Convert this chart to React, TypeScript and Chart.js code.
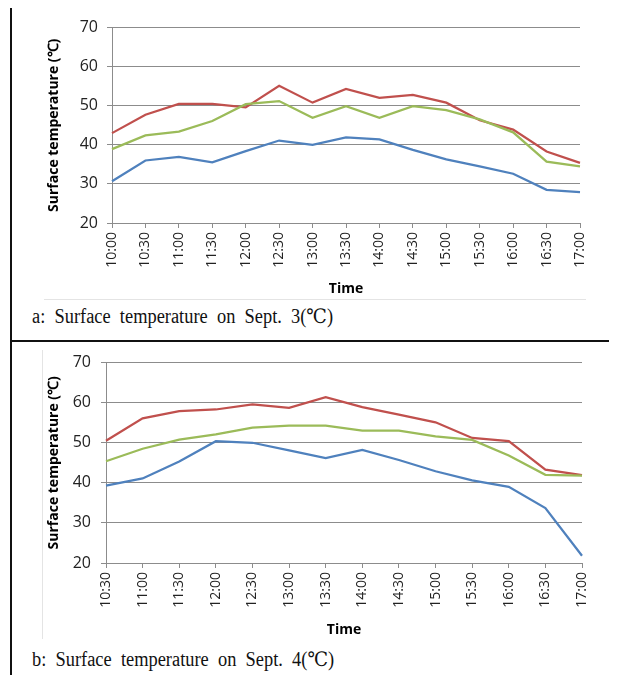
import React, { useEffect, useRef } from "react";
import { Chart, registerables } from "chart.js";

Chart.register(...registerables);

// ---- Data ----
const timesA = ["10:00","10:30","11:00","11:30","12:00","12:30","13:00","13:30","14:00","14:30","15:00","15:30","16:00","16:30","17:00"];
const redA = [43.0, 47.7, 50.5, 50.5, 49.6, 55.1, 50.8, 54.3, 52.0, 52.8, 50.8, 46.3, 43.9, 38.3, 35.4];
const greenA = [38.9, 42.4, 43.4, 46.1, 50.4, 51.2, 46.9, 49.9, 46.9, 49.9, 48.9, 46.5, 43.2, 35.7, 34.5];
const blueA = [30.7, 36.0, 36.9, 35.5, 38.4, 41.1, 40.0, 41.9, 41.4, 38.7, 36.3, 34.5, 32.6, 28.5, 27.9];

const timesB = ["10:30","11:00","11:30","12:00","12:30","13:00","13:30","14:00","14:30","15:00","15:30","16:00","16:30","17:00"];
const redB = [50.5, 56.1, 57.9, 58.3, 59.6, 58.7, 61.4, 58.9, 57.0, 55.1, 51.2, 50.4, 43.3, 41.9];
const greenB = [45.4, 48.5, 50.8, 52.1, 53.8, 54.3, 54.3, 53.0, 53.0, 51.6, 50.7, 46.8, 42.0, 41.8];
const blueB = [39.3, 41.1, 45.3, 50.4, 50.0, 48.1, 46.2, 48.2, 45.7, 42.9, 40.6, 39.0, 33.7, 21.8];

const yTicks = [20, 30, 40, 50, 60, 70];
const yTitle = "Surface temperature (℃)";
const xTitle = "Time";
const captionA = "a: Surface temperature on Sept. 3(℃)";
const captionB = "b: Surface temperature on Sept. 4(℃)";

const RED = "#C0504D";
const GREEN = "#9BBB59";
const BLUE = "#4F81BD";
const GRID = "#8c8c8c";

type Layout = {
  height: number;
  padTop: number;
  padRight: number;
  yWidth: number;
  xHeight: number;
  xTitlePad: number;
  yTickPad: number;
};

function TempChart(props: {
  labels: string[];
  red: number[];
  green: number[];
  blue: number[];
  layout: Layout;
  top: number;
}) {
  const ref = useRef<HTMLCanvasElement | null>(null);
  useEffect(() => {
    if (!ref.current) return;
    const L = props.layout;
    const mk = (label: string, data: number[], color: string) => ({
      label,
      data,
      borderColor: color,
      backgroundColor: color,
      borderWidth: 2.25,
      pointRadius: 0,
      tension: 0,
      fill: false,
    });
    const chart = new Chart(ref.current, {
      type: "line",
      data: {
        labels: props.labels,
        datasets: [
          mk("Blue", props.blue, BLUE),
          mk("Green", props.green, GREEN),
          mk("Red", props.red, RED),
        ],
      },
      options: {
        animation: false,
        responsive: false,
        layout: { padding: { top: L.padTop, right: L.padRight, left: 0, bottom: 0 } },
        plugins: { legend: { display: false }, tooltip: { enabled: false } },
        scales: {
          x: {
            type: "category",
            offset: false,
            afterFit: (s: any) => { s.height = L.xHeight; },
            grid: {
              display: true,
              drawOnChartArea: false,
              drawTicks: true,
              tickLength: 5,
              color: GRID,
            },
            border: { color: GRID, width: 1 },
            ticks: {
              minRotation: 90,
              maxRotation: 90,
              autoSkip: false,
              padding: 4,
              color: "#222",
              font: { family: "'Open Sans'", size: 14 },
            },
            title: {
              display: true,
              text: xTitle,
              color: "#000",
              font: { family: "'Open Sans'", size: 14, weight: "bold" },
              padding: { top: 0, bottom: L.xTitlePad },
            },
          },
          y: {
            min: 20,
            max: 70,
            afterFit: (s: any) => { s.width = L.yWidth; },
            afterBuildTicks: (s: any) => { s.ticks = yTicks.map((v) => ({ value: v })); },
            grid: {
              color: GRID,
              lineWidth: 1,
              drawTicks: true,
              tickLength: 5,
            },
            border: { color: GRID, width: 1 },
            ticks: {
              padding: L.yTickPad,
              color: "#222",
              font: { family: "'Open Sans'", size: 16 },
            },
            title: {
              display: true,
              text: yTitle,
              color: "#000",
              font: { family: "'Open Sans'", size: 14, weight: "bold" },
              padding: { top: 46, bottom: 0 },
            },
          },
        },
      },
    } as any);
    return () => chart.destroy();
  }, []);
  return (
    <canvas
      ref={ref}
      width={617}
      height={props.layout.height}
      style={{ position: "absolute", left: 0, top: props.top, width: 617, height: props.layout.height, display: "block" }}
    />
  );
}

const captionStyle: React.CSSProperties = {
  position: "absolute",
  left: 32,
  fontFamily: "'Liberation Serif', 'DejaVu Serif', serif",
  fontSize: 20,
  lineHeight: "22px",
  color: "#111",
  whiteSpace: "nowrap",
  wordSpacing: 5,
  transform: "scaleX(0.92)",
  transformOrigin: "left center",
};

export default function App() {
  return (
    <div style={{ position: "relative", margin: -8, width: 617, height: 683, overflow: "hidden", background: "#fff" }}>
      {/* faint chart-area borders */}
      <div style={{ position: "absolute", left: 44, top: 299, width: 542, height: 1, background: "#e4e4e4" }} />
      <div style={{ position: "absolute", left: 42, top: 350, width: 1, height: 289, background: "#e4e4e4" }} />
      <TempChart
        labels={timesA}
        red={redA}
        green={greenA}
        blue={blueA}
        top={9}
        layout={{ height: 296, padTop: 12, padRight: 37, yWidth: 112, xHeight: 82, xTitlePad: 8, yTickPad: 9 }}
      />
      <TempChart
        labels={timesB}
        red={redB}
        green={greenB}
        blue={blueB}
        top={343}
        layout={{ height: 305, padTop: 16, padRight: 35, yWidth: 106, xHeight: 85, xTitlePad: 10, yTickPad: 10 }}
      />
      <div style={{ ...captionStyle, top: 305 }}>{captionA}</div>
      <div style={{ ...captionStyle, top: 648 }}>{captionB}</div>
      {/* table borders */}
      <div style={{ position: "absolute", left: 10, top: 6, width: 607, height: 2, background: "#111" }} />
      <div style={{ position: "absolute", left: 10, top: 6, width: 2, height: 677, background: "#111" }} />
      <div style={{ position: "absolute", left: 10, top: 340, width: 607, height: 2, background: "#111" }} />
    </div>
  );
}
